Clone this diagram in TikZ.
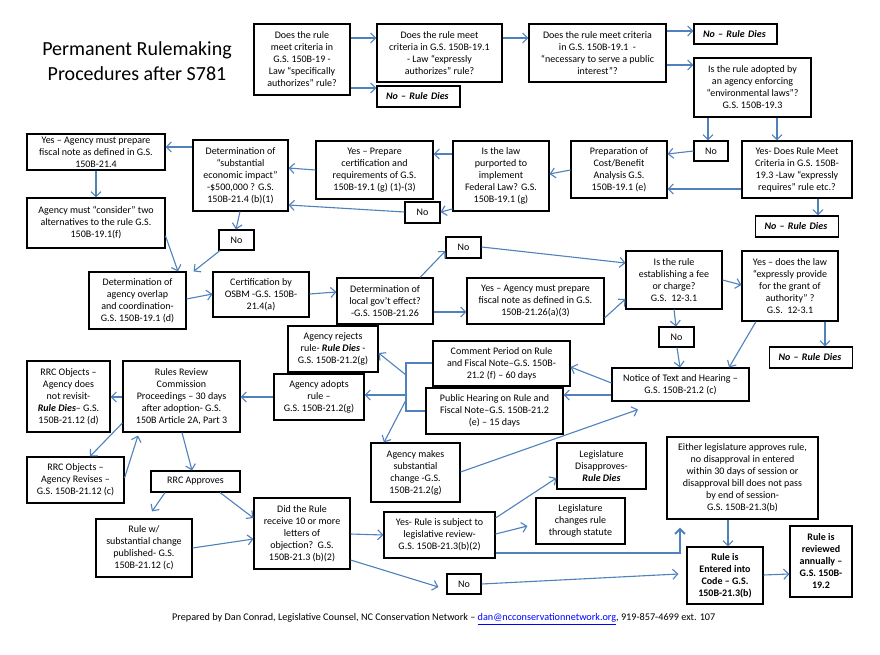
\documentclass[tikz,border=0pt]{standalone}
\usepackage{fontspec}
\setmainfont{Carlito}
\usetikzlibrary{arrows.meta,calc}
\definecolor{arr}{HTML}{4F81BD}
\definecolor{lnk}{HTML}{0000FF}
\newcommand\mybox[7][]{\node[box,#1,minimum width={#5-#3},minimum height={#6-#4}] (#2) at ({(#3+#5)/2},{(#4+#6)/2}) {#7};}
\newcommand\rd{\textbf{\textit{Rule Dies}}}
\begin{document}
\begin{tikzpicture}[x=1pt,y=-1pt,
  box/.style={draw=black, line width=1.1pt, inner sep=0pt, align=center, font=\fontsize{10}{12}\selectfont, fill=white},
  nrd/.style={align=left, inner xsep=9pt, text width=65pt, font=\fontsize{10}{12}\selectfont\bfseries\itshape},
  bld/.style={font=\fontsize{10}{12}\selectfont\bfseries},
  conn/.style={draw=arr, line width=1.1pt, -{Straight Barb[length=5pt,width=10pt]}},
  plain/.style={draw=arr, line width=1.1pt}]
\useasboundingbox (0,0) rectangle (880,655);
\fill[white] (0,0) rectangle (880,655);
\node[align=center, font=\fontsize{20}{25}\selectfont] (title) at (137,61) {Permanent Rulemaking\\Procedures after S781};

\mybox{A}{254}{24}{350}{95}{Does the rule\\meet criteria in\\G.S. 150B-19 -\\Law “specifically\\authorizes” rule?}
\mybox{B}{377}{24}{502}{82}{Does the rule meet\\criteria in G.S. 150B-19.1\\- Law “expressly\\authorizes” rule?}
\mybox[nrd]{NRDa}{377}{86}{460}{107}{No – Rule Dies}
\mybox{C}{529}{24}{666}{82}{Does the rule meet criteria\\in G.S. 150B-19.1 \ -\\“necessary to serve a public\\interest”?}
\mybox[nrd]{NRDb}{694}{24}{777}{44}{No – Rule Dies}
\mybox{D}{694}{58}{811}{117}{Is the rule adopted by\\an agency enforcing\\“environmental laws”?\\G.S. 150B-19.3}
\mybox{NoD}{694}{141}{728}{161}{No}
\mybox{E}{742}{141}{852}{198}{Yes- Does Rule Meet\\Criteria in G.S. 150B-\\19.3 -Law “expressly\\requires” rule etc.?}
\mybox{F}{571}{141}{667}{198}{Preparation of\\Cost/Benefit\\Analysis G.S.\\150B-19.1 (e)}
\mybox[nrd]{NRDc}{756}{216}{838}{237}{No – Rule Dies}
\mybox{G}{453}{141}{549}{211}{Is the law\\purported to\\implement\\Federal Law? G.S.\\150B-19.1 (g)}
\mybox{H}{316}{141}{433}{199}{Yes – Prepare\\certification and\\requirements of G.S.\\150B-19.1 (g) (1)-(3)}
\mybox{NoG}{405}{202}{440}{223}{No}
\mybox{I}{193}{140}{288}{211}{Determination of\\“substantial\\economic impact”\\-\$500,000 ? G.S.\\150B-21.4 (b)(1)}
\mybox{J}{27}{134}{165}{170}{Yes – Agency must prepare\\fiscal note as defined in G.S.\\150B-21.4}
\mybox{K}{27}{198}{165}{248}{Agency must “consider” two\\alternatives to the rule G.S.\\150B-19.1(f)}
\mybox{NoI}{219}{230}{254}{250}{No}
\mybox{L}{89}{272}{186}{329}{Determination of\\agency overlap\\and coordination-\\G.S. 150B-19.1 (d)}
\mybox{M}{213}{272}{309}{317}{Certification by\\OSBM -G.S. 150B-\\21.4(a)}
\mybox{N}{337}{278}{433}{324}{Determination of\\local gov’t effect?\\-G.S. 150B-21.26}
\mybox{NoN}{446}{237}{481}{258}{No}
\mybox{O}{626}{251}{722}{309}{Is the rule\\establishing a fee\\or charge?\\G.S.\ \ 12-3.1}
\mybox{P}{467}{278}{604}{324}{Yes – Agency must prepare\\fiscal note as defined in G.S.\\150B-21.26(a)(3)}
\mybox{Q}{742}{251}{838}{321}{Yes – does the law\\“expressly provide\\for the grant of\\authority” ?\\G.S.\ \ 12-3.1}
\mybox{NoO}{659}{327}{694}{347}{No}
\mybox[nrd]{NRDd}{770}{347}{852}{368}{No – Rule Dies}
\mybox{R}{612}{368}{749}{401}{Notice of Text and Hearing –\\G.S. 150B-21.2 (c)}
\mybox{S}{667}{437}{818}{519}{Either legislature approves rule,\\no disapproval in entered\\within 30 days of session or\\disapproval bill does not pass\\by end of session-\\G.S. 150B-21.3(b)}
\mybox{T}{433}{341}{570}{386}{Comment Period on Rule\\and Fiscal Note–G.S. 150B-\\21.2 (f) – 60 days}
\mybox{U}{426}{388}{563}{434}{Public Hearing on Rule and\\Fiscal Note–G.S. 150B-21.2\\(e) – 15 days}
\mybox{V}{288}{326}{378}{372}{Agency rejects\\rule- \rd\ -\\G.S. 150B-21.2(g)}
\mybox{W}{274}{374}{364}{420}{Agency adopts\\rule –\\G.S. 150B-21.2(g)}
\mybox{X}{371}{443}{460}{502}{Agency makes\\substantial\\change -G.S.\\150B-21.2(g)}
\mybox{Y}{557}{443}{646}{489}{Legislature\\Disapproves-\\\rd}
\mybox{Z}{536}{498}{625}{544}{Legislature\\changes rule\\through statute}
\mybox[bld]{AA}{687}{547}{763}{604}{Rule is\\Entered into\\Code – G.S.\\150B-21.3(b)}
\mybox[bld]{BB}{790}{526}{852}{597}{Rule is\\reviewed\\annually –\\G.S. 150B-\\19.2}
\mybox{NoC}{447}{574}{481}{594}{No}
\mybox{DD}{384}{512}{495}{558}{Yes- Rule is subject to\\legislative review-\\G.S. 150B-21.3(b)(2)}
\mybox{EE}{254}{498}{350}{569}{Did the Rule\\receive 10 or more\\letters of\\objection?\ \ G.S.\\150B-21.3 (b)(2)}
\mybox{FF}{151}{471}{240}{492}{RRC Approves}
\mybox{GG}{96}{519}{192}{577}{Rule w/\\substantial change\\published- G.S.\\150B-21.12 (c)}
\mybox{HH}{123}{361}{240}{432}{Rules Review\\Commission\\Proceedings – 30 days\\after adoption- G.S.\\150B Article 2A, Part 3}
\mybox{II}{27}{361}{110}{432}{RRC Objects –\\Agency does\\not revisit-\\\rd– G.S.\\150B-21.12 (d)}
\mybox{JJ}{27}{457}{124}{503}{RRC Objects –\\Agency Revises –\\G.S. 150B-21.12 (c)}

\node[anchor=west, font=\fontsize{10.2}{12}\selectfont, inner sep=0pt] (foot) at (172,619) {Prepared by Dan Conrad, Legislative Counsel, NC Conservation Network – \textcolor{lnk}{\underline{dan@ncconservationnetwork.org}}, 919-857-4699 ext. 107};

% connectors
\draw[conn] (A.east|-0,38) -- (B.west|-0,38);
\draw[conn] (A.east|-0,88) -- (NRDa.west|-0,88);
\draw[conn] (B.east|-0,38) -- (C.west|-0,38);
\draw[conn] (C.east|-0,31) -- (NRDb.west|-0,31);
\draw[conn] (C.east|-0,65) -- (D.west|-0,65);
\draw[conn] (D.south-|708,0) -- (NoD.north-|708,0);
\draw[conn] (D.south-|777,0) -- (E.north-|777,0);
\draw[conn] (NoD.west|-0,151) -- (F.east|-0,154);
\draw[conn] (E.west|-0,189) -- (F.east|-0,189);
\draw[conn] (E.south-|818,0) -- (NRDc.north-|818,0);
\draw[conn] (F.west|-0,170) -- (G.east|-0,174);
\draw[conn] (G.west|-0,154) -- (H.east|-0,154);
\draw[conn] (G.west|-0,209) -- (NoG.east|-0,212);
\draw[conn] (H.west|-0,170) -- (I.east|-0,168);
\draw[conn] (NoG.west|-0,212) -- (I.east|-0,205);
\draw[conn] (I.west|-0,147) -- (J.east|-0,147);
\draw[conn] (J.south-|96,0) -- (K.north-|96,0);
\draw[conn] (I.south-|240,0) -- (NoI.north-|236,0);
\draw[conn] (K.east|-0,236) -- (L.north-|178,0);
\draw[conn] (NoI.south-|220,0) -- ([xshift=7pt]L.north east);
\draw[conn] (L.east|-0,299) -- (M.west|-0,294);
\draw[conn] (M.east|-0,294) -- (N.west|-0,292);
\draw[conn] (N.north-|420,0) -- (NoN.west|-0,251);
\draw[conn] (NoN.east|-0,247) -- (O.west|-0,263);
\draw[conn] (N.east|-0,312) -- (P.west|-0,312);
\draw[conn] (P.east|-0,318) -- (O.west|-0,299);
\draw[conn] (O.east|-0,280) -- (Q.west|-0,285);
\draw[conn] (O.south-|674,0) -- (NoO.north-|676,0);
\draw[conn] (Q.south-|825,0) -- (NRDd.north-|825,0);
\draw[conn] (NoO.south-|677,0) -- (R.north-|680,0);
\draw[conn] (Q.south-|756,0) -- (R.north-|729,0);
\draw[conn] (R.west|-0,383) -- (T.east|-0,367);
\draw[conn] (R.west|-0,395) -- (U.east|-0,395);
\draw[plain] (T.west|-0,363) -| (406,411) -- (U.west|-0,411);
\coordinate (ja) at (406,375);
\coordinate (jb) at (406,395);
\coordinate (jc) at (406,400);
\draw[conn] (ja) -- (V.east|-0,353);
\draw[conn] (jb) -- (W.east|-0,395);
\draw[conn] (jc) -- (X.north-|384,0);
\draw[conn] (X.east|-0,472) -- ([yshift=-8pt]R.south-|638,0);
\draw[conn] (W.west|-0,397) -- (HH.east|-0,397);
\draw[conn] (HH.west|-0,397) -- (II.east|-0,397);
\draw[conn] (HH.west|-0,423) -- (JJ.north-|90,0);
\draw[conn] (JJ.east|-0,478) -- ([yshift=-3pt]HH.south-|138,0);
\draw[conn] (HH.south-|182,0) -- (FF.north-|192,0);
\draw[conn] (FF.south-|165,0) -- ([yshift=7pt]GG.north-|152,0);
\draw[conn] (FF.south-|220,0) -- (EE.west|-0,518);
\draw[conn] (GG.east|-0,548) -- (EE.west|-0,539);
\draw[conn] (EE.east|-0,534) -- (DD.west|-0,535);
\draw[conn] (EE.east|-0,560) -- ([xshift=-8pt]NoC.west|-0,587);
\draw[conn] (DD.east|-0,518) -- (Y.west|-0,478);
\draw[conn] (DD.east|-0,534) -- ([xshift=-8pt]Z.west|-0,526);
\draw[conn, line width=2pt] (DD.east|-0,553) -| ([yshift=-8pt]S.south-|680,0);
\draw[conn] (S.south-|728,0) -- (AA.north-|728,0);
\draw[conn] (NoC.east|-0,584) -- ([xshift=-8pt]AA.west|-0,574);
\draw[conn] (AA.east|-0,575) -- (BB.west|-0,574);
\end{tikzpicture}
\end{document}
